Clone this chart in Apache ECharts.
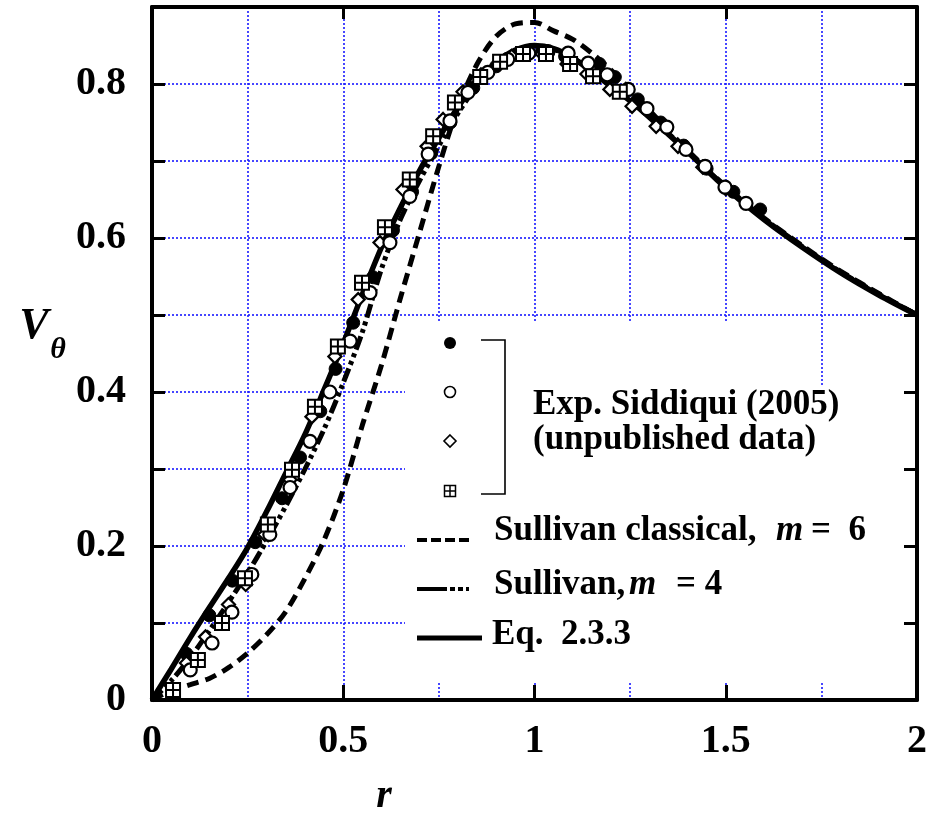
<!DOCTYPE html>
<html>
<head>
<meta charset="utf-8">
<script src="https://cdn.jsdelivr.net/npm/echarts@6.0.0/dist/echarts.min.js"></script>
<style>
  html, body { margin: 0; padding: 0; background: #fff; }
  #chart { width: 932px; height: 818px; }
</style>
</head>
<body>
<div id="chart"></div>
<script>
// Radial stations shared by the three model curves
const rCurve = [0, 0.05, 0.1, 0.15, 0.2, 0.25, 0.3, 0.35, 0.4, 0.45, 0.5, 0.55, 0.6, 0.65, 0.7, 0.75,
  0.8, 0.85, 0.9, 0.95, 1.0, 1.05, 1.1, 1.15, 1.2, 1.25, 1.3, 1.4, 1.5, 1.6, 1.7, 1.8, 1.9, 2.0];

// Eq. 2.3.3 (solid)
const vEq = [0, 0.04, 0.081, 0.12, 0.158, 0.198, 0.245, 0.295, 0.345, 0.403, 0.463, 0.527, 0.588, 0.64,
  0.688, 0.73, 0.77, 0.803, 0.828, 0.844, 0.85, 0.846, 0.834, 0.816, 0.797, 0.778, 0.757, 0.712, 0.665,
  0.624, 0.588, 0.555, 0.526, 0.5];

// Sullivan, m = 4 (dash-dot-dot)
const vSullivan4 = [0, 0.025, 0.055, 0.09, 0.127, 0.165, 0.207, 0.252, 0.3, 0.352, 0.412, 0.478, 0.56,
  0.625, 0.675, 0.72, 0.762, 0.798, 0.826, 0.842, 0.848, 0.845, 0.834, 0.817, 0.798, 0.779, 0.758, 0.713,
  0.666, 0.625, 0.589, 0.556, 0.527, 0.5];

// Sullivan classical, m = 6 (dashed)
const vSullivan6 = [0, 0.012, 0.02, 0.028, 0.042, 0.061, 0.085, 0.115, 0.158, 0.208, 0.273, 0.357, 0.435,
  0.523, 0.608, 0.693, 0.77, 0.826, 0.862, 0.878, 0.88, 0.869, 0.858, 0.84, 0.818, 0.793, 0.766, 0.714,
  0.667, 0.626, 0.59, 0.557, 0.528, 0.5];

// Experimental runs, Siddiqui (2005)
const rFilled = [0.09, 0.15, 0.21, 0.27, 0.34, 0.387, 0.44, 0.48, 0.526, 0.578, 0.63, 0.68, 0.73, 0.78,
  0.84, 0.9, 0.96, 1.02, 1.08, 1.17, 1.21, 1.27, 1.33, 1.39, 1.45, 1.52, 1.59];
const vFilled = [0.06, 0.11, 0.155, 0.205, 0.262, 0.315, 0.375, 0.43, 0.49, 0.549, 0.61, 0.66, 0.71, 0.75,
  0.795, 0.823, 0.838, 0.843, 0.836, 0.826, 0.809, 0.78, 0.75, 0.72, 0.69, 0.66, 0.637];

const rOpen = [0.1, 0.157, 0.209, 0.261, 0.308, 0.361, 0.413, 0.465, 0.518, 0.57, 0.622, 0.674, 0.722,
  0.779, 0.826, 0.878, 0.93, 0.985, 1.035, 1.088, 1.14, 1.19, 1.245, 1.294, 1.346, 1.396, 1.446, 1.498, 1.553];
const vOpen = [0.039, 0.074, 0.114, 0.163, 0.215, 0.276, 0.336, 0.4, 0.466, 0.529, 0.594, 0.654, 0.709,
  0.752, 0.789, 0.815, 0.832, 0.84, 0.842, 0.84, 0.827, 0.812, 0.793, 0.768, 0.744, 0.715, 0.693, 0.666, 0.645];

const rDiamond = [0.09, 0.14, 0.2, 0.245, 0.295, 0.361, 0.418, 0.478, 0.539, 0.596, 0.656, 0.719, 0.761,
  0.813, 0.86, 0.94, 1.02, 1.085, 1.137, 1.197, 1.255, 1.318, 1.375, 1.44, 1.5];
const vDiamond = [0.048, 0.082, 0.124, 0.15, 0.215, 0.286, 0.368, 0.446, 0.52, 0.594, 0.663, 0.719, 0.754,
  0.79, 0.812, 0.836, 0.839, 0.826, 0.813, 0.793, 0.771, 0.745, 0.719, 0.692, 0.664];

const rSquare = [0.055, 0.12, 0.183, 0.243, 0.303, 0.366, 0.426, 0.486, 0.549, 0.609, 0.674, 0.735, 0.792,
  0.858, 0.91, 0.97, 1.03, 1.093, 1.153, 1.223];
const vSquare = [0.013, 0.052, 0.1, 0.158, 0.228, 0.299, 0.381, 0.459, 0.542, 0.614, 0.676, 0.732, 0.776,
  0.809, 0.829, 0.839, 0.839, 0.826, 0.81, 0.79];

// Tick labels
const xTickLabels = ['0', '0.5', '1', '1.5', '2'];
const yTickLabels = ['0', '0.2', '0.4', '0.6', '0.8'];

const FONT = '"Liberation Serif", "Times New Roman", serif';
const zip = (xs, ys) => xs.map((x, i) => [x, ys[i]]);
const gridLine = { color: '#1a1aff', width: 1.6, type: [2, 2] };
const squarePlus = 'path://M0,0L10,0L10,10L0,10Z M5,0L5,10 M0,5L10,5';

const chart = echarts.init(document.getElementById('chart'), null, { renderer: 'canvas' });

const blackAxis = { show: true, onZero: false, lineStyle: { color: '#000', width: 4 } };

const legendFont = 'bold 35px ' + FONT;
const legendItalic = 'italic bold 35px ' + FONT;
function txt(text, x, y, font, align) {
  return { type: 'text', z: 100, style: { text, x, y, font, fill: '#000', align: align || 'left', verticalAlign: 'middle' } };
}
function seg(x1, y1, x2, y2, width, dash) {
  return { type: 'line', z: 100, shape: { x1, y1, x2, y2 },
    style: { stroke: '#000', lineWidth: width, lineDash: dash || null, lineCap: 'butt' } };
}

const option = {
  animation: false,
  backgroundColor: '#fff',
  grid: { left: 152, top: 7, width: 765, height: 693, containLabel: false },
  xAxis: [
    {
      type: 'value', min: 0, max: 2, interval: 0.5, position: 'bottom',
      axisLine: blackAxis,
      axisTick: { show: true, inside: true, length: 15, lineStyle: { color: '#000', width: 3 } },
      axisLabel: {
        margin: 22, fontFamily: FONT, fontWeight: 'bold', fontSize: 40, color: '#000',
        formatter: v => { const s = String(Math.round(v * 100) / 100); return xTickLabels.includes(s) ? s : ''; }
      },
      splitLine: { show: true, lineStyle: gridLine },
      minorTick: { show: false, splitNumber: 2 },
      minorSplitLine: { show: true, lineStyle: gridLine }
    },
    {
      type: 'value', min: 0, max: 2, interval: 0.5, position: 'top', z: 3,
      axisLine: blackAxis,
      axisTick: { show: true, inside: true, length: 12, lineStyle: { color: '#000', width: 3 } },
      axisLabel: { show: false },
      splitLine: { show: false }
    }
  ],
  yAxis: [
    {
      type: 'value', min: 0, max: 0.9, interval: 0.1, position: 'left',
      axisLine: blackAxis,
      axisTick: { show: true, inside: true, length: 13, lineStyle: { color: '#000', width: 3 } },
      axisLabel: {
        margin: 26, fontFamily: FONT, fontWeight: 'bold', fontSize: 40, color: '#000',
        formatter: v => { const s = String(Math.round(v * 10) / 10); return yTickLabels.includes(s) ? s : ''; }
      },
      splitLine: { show: true, lineStyle: gridLine }
    },
    {
      type: 'value', min: 0, max: 0.9, interval: 0.1, position: 'right', z: 3,
      axisLine: blackAxis,
      axisTick: { show: true, inside: true, length: 13, lineStyle: { color: '#000', width: 3 } },
      axisLabel: { show: false },
      splitLine: { show: false }
    }
  ],
  series: [
    {
      name: 'Sullivan classical, m = 6', type: 'line', data: zip(rCurve, vSullivan6),
      symbol: 'none', smooth: 0.3, z: 2, silent: true,
      lineStyle: { color: '#000', width: 5, type: [12, 7], cap: 'butt' }
    },
    {
      name: 'Sullivan, m = 4', type: 'line', data: zip(rCurve, vSullivan4),
      symbol: 'none', smooth: 0.3, z: 2, silent: true,
      lineStyle: { color: '#000', width: 5, type: [14, 4, 4, 4, 4, 4], cap: 'butt' }
    },
    {
      name: 'Eq. 2.3.3', type: 'line', data: zip(rCurve, vEq),
      symbol: 'none', smooth: 0.3, z: 2, silent: true,
      lineStyle: { color: '#000', width: 5.5 }
    },
    {
      name: 'run 1', type: 'scatter', data: zip(rFilled, vFilled), z: 4, silent: true,
      symbol: 'circle', symbolSize: 13,
      itemStyle: { color: '#000', borderColor: '#000', borderWidth: 1, opacity: 1 }
    },
    {
      name: 'run 3', type: 'scatter', data: zip(rDiamond, vDiamond), z: 4, silent: true,
      symbol: 'diamond', symbolSize: 13,
      itemStyle: { color: '#fff', borderColor: '#000', borderWidth: 2.2, opacity: 1 }
    },
    {
      name: 'run 2', type: 'scatter', data: zip(rOpen, vOpen), z: 4, silent: true,
      symbol: 'circle', symbolSize: 13,
      itemStyle: { color: '#fff', borderColor: '#000', borderWidth: 2.2, opacity: 1 }
    },
    {
      name: 'run 4', type: 'scatter', data: zip(rSquare, vSquare), z: 4, silent: true,
      symbol: squarePlus, symbolSize: 14, symbolKeepAspect: true,
      itemStyle: { color: '#fff', borderColor: '#000', borderWidth: 2, opacity: 1 }
    }
  ],
  graphic: [
    // white panel behind the key
    { type: 'rect', z: 1, shape: { x: 405, y: 322, width: 395, height: 359 }, style: { fill: '#fff' } },
    { type: 'rect', z: 1, shape: { x: 800, y: 385, width: 116, height: 296 }, style: { fill: '#fff' } },

    // key: experimental symbols and bracket
    { type: 'circle', z: 100, shape: { cx: 450, cy: 343, r: 6 }, style: { fill: '#000' } },
    { type: 'circle', z: 100, shape: { cx: 450, cy: 392, r: 5.5 }, style: { fill: '#fff', stroke: '#000', lineWidth: 1.6 } },
    { type: 'polygon', z: 100, shape: { points: [[450, 435], [456, 441], [450, 447], [444, 441]] },
      style: { fill: '#fff', stroke: '#000', lineWidth: 1.6 } },
    { type: 'rect', z: 100, shape: { x: 444.5, y: 485.5, width: 11, height: 11 }, style: { fill: '#fff', stroke: '#000', lineWidth: 1.5 } },
    seg(450, 485.5, 450, 496.5, 1.5),
    seg(444.5, 491, 455.5, 491, 1.5),
    { type: 'polyline', z: 100, shape: { points: [[481, 340], [505, 340], [505, 494], [481, 494]] },
      style: { stroke: '#000', lineWidth: 1.6, fill: null } },
    txt('Exp. Siddiqui (2005)', 533, 405, legendFont),
    txt('(unpublished data)', 533, 440, legendFont),

    // key: model curves
    seg(417, 540, 469, 540, 4, [10, 4]),
    txt('Sullivan classical,', 494, 531, legendFont),
    txt('m', 776, 531, legendItalic),
    txt('=  6', 811, 531, legendFont),

    seg(417, 589, 469, 589, 4, [30, 3, 5, 3, 5, 3]),
    txt('Sullivan,', 494, 585, legendFont),
    txt('m', 629, 585, legendItalic),
    txt('= 4', 676, 585, legendFont),

    seg(417, 638, 482, 638, 5),
    txt('Eq.  2.3.3', 492, 635, legendFont),

    // axis titles
    txt('r', 384, 797, 'italic bold 40px ' + FONT, 'center'),
    txt('V', 34, 327, 'italic bold 44px ' + FONT, 'center'),
    txt('\u03b8', 58, 350, 'italic bold 30px ' + FONT, 'center')
  ]
};

chart.setOption(option);
</script>
</body>
</html>
